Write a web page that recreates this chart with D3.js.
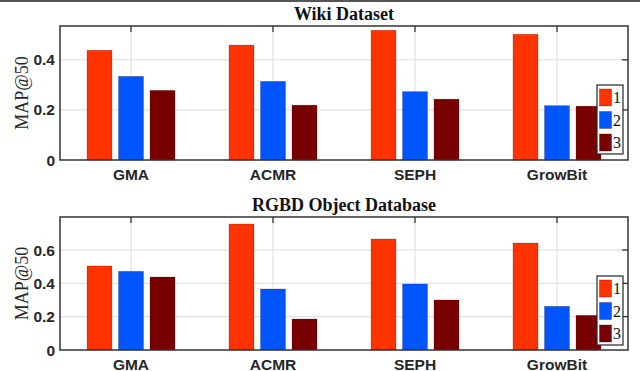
<!DOCTYPE html>
<html>
<head>
<meta charset="utf-8">
<script src="https://cdn.jsdelivr.net/npm/d3@7"></script>
<style>
  body { margin: 0; background: #fff; }
  svg { display: block; }
</style>
</head>
<body>
<div id="chart"></div>
<script>
var categories = ['GMA', 'ACMR', 'SEPH', 'GrowBit'];
var seriesNames = ['1', '2', '3'];
var colors = ['#ff3300', '#0055ff', '#780000'];

// MAP@50 values, one array per series
var wiki1 = [0.438, 0.459, 0.518, 0.502];
var wiki2 = [0.334, 0.314, 0.273, 0.217];
var wiki3 = [0.278, 0.219, 0.243, 0.215];
var wikiTicks = [0, 0.2, 0.4];

var rgbd1 = [0.504, 0.756, 0.666, 0.642];
var rgbd2 = [0.472, 0.366, 0.396, 0.262];
var rgbd3 = [0.438, 0.186, 0.300, 0.208];
var rgbdTicks = [0, 0.2, 0.4, 0.6];

var width = 640,
  height = 371;

var svg = d3.select('#chart')
  .append('svg')
  .attr('width', width)
  .attr('height', height);

// thin frame line along the top edge
svg.append('rect')
  .attr('x', 0).attr('y', 0)
  .attr('width', width).attr('height', 2)
  .attr('fill', '#555');

var drawPanel = function(opts) {
  var left = 60,
    right = 628,
    top = opts.top,
    bottom = opts.bottom;

  var x = d3.scaleBand()
    .domain(categories)
    .range([left, right]);
  var x1 = d3.scaleBand()
    .domain(seriesNames)
    .range([-44, 44])
    .paddingInner(0.206);
  var y = d3.scaleLinear()
    .domain([0, opts.yMax])
    .range([bottom, top]);

  var g = svg.append('g');
  var cx = function(c) { return x(c) + x.bandwidth() / 2; };

  // grid
  g.selectAll('.hgrid')
    .data(opts.ticks.filter(function(t) { return t > 0; }))
    .enter().append('line')
    .attr('x1', left).attr('x2', right)
    .attr('y1', function(d) { return y(d); })
    .attr('y2', function(d) { return y(d); })
    .attr('stroke', '#dcdcdc')
    .attr('stroke-width', 1);
  g.selectAll('.vgrid')
    .data(categories)
    .enter().append('line')
    .attr('x1', cx).attr('x2', cx)
    .attr('y1', top).attr('y2', bottom)
    .attr('stroke', '#dcdcdc')
    .attr('stroke-width', 1);

  // top and right inward ticks
  g.selectAll('.ttick')
    .data(categories)
    .enter().append('line')
    .attr('x1', cx).attr('x2', cx)
    .attr('y1', top).attr('y2', top + 6)
    .attr('stroke', '#262626')
    .attr('stroke-width', 1.2);
  g.selectAll('.rtick')
    .data(opts.ticks.filter(function(t) { return t > 0; }))
    .enter().append('line')
    .attr('x1', right - 6).attr('x2', right)
    .attr('y1', function(d) { return y(d); })
    .attr('y2', function(d) { return y(d); })
    .attr('stroke', '#262626')
    .attr('stroke-width', 1.2);

  // bars
  var rows = [];
  opts.series.forEach(function(vals, si) {
    vals.forEach(function(v, ci) {
      rows.push({ cat: categories[ci], s: seriesNames[si], si: si, v: v });
    });
  });
  g.selectAll('.bar')
    .data(rows)
    .enter().append('rect')
    .attr('x', function(d) { return cx(d.cat) + x1(d.s); })
    .attr('width', x1.bandwidth())
    .attr('y', function(d) { return y(d.v); })
    .attr('height', function(d) { return bottom - y(d.v); })
    .attr('fill', function(d) { return colors[d.si]; })
    .attr('stroke', '#3a0000')
    .attr('stroke-opacity', 0.35)
    .attr('stroke-width', 0.6);

  // axes box
  g.append('rect')
    .attr('x', left).attr('y', top)
    .attr('width', right - left).attr('height', bottom - top)
    .attr('fill', 'none')
    .attr('stroke', '#333')
    .attr('stroke-width', 1.5);

  // y tick labels
  g.selectAll('.ylab')
    .data(opts.ticks)
    .enter().append('text')
    .attr('x', left - 5)
    .attr('y', function(d) { return y(d) + 5.5; })
    .attr('text-anchor', 'end')
    .attr('font-family', 'Liberation Sans, Arial, sans-serif')
    .attr('font-weight', 'bold')
    .attr('font-size', '15.5px')
    .attr('fill', '#262626')
    .text(function(d) { return d === 0 ? '0' : d3.format('.1f')(d); });

  // x tick labels
  g.selectAll('.xlab')
    .data(categories)
    .enter().append('text')
    .attr('x', cx)
    .attr('y', bottom + 20)
    .attr('text-anchor', 'middle')
    .attr('font-family', 'Liberation Sans, Arial, sans-serif')
    .attr('font-weight', 'bold')
    .attr('font-size', '15.5px')
    .attr('fill', '#262626')
    .text(function(d) { return d; });

  // y label
  g.append('text')
    .attr('transform', 'translate(28,' + ((top + bottom) / 2) + ') rotate(-90)')
    .attr('text-anchor', 'middle')
    .attr('font-family', 'Liberation Serif, DejaVu Serif, serif')
    .attr('font-size', '18px')
    .attr('fill', '#262626')
    .text('MAP@50');

  // title
  g.append('text')
    .attr('x', (left + right) / 2)
    .attr('y', top - 6)
    .attr('text-anchor', 'middle')
    .attr('font-family', 'Liberation Serif, DejaVu Serif, serif')
    .attr('font-weight', 'bold')
    .attr('font-size', '18px')
    .attr('fill', '#111')
    .text(opts.title);

  // legend
  var lg = g.append('g')
    .attr('transform', 'translate(597,' + opts.legendTop + ')');
  lg.append('rect')
    .attr('width', 26).attr('height', 69)
    .attr('fill', '#fff')
    .attr('stroke', '#262626')
    .attr('stroke-width', 1.2);
  var item = lg.selectAll('.item')
    .data(seriesNames)
    .enter().append('g')
    .attr('transform', function(d, i) { return 'translate(0,' + (4 + i * 22.5) + ')'; });
  item.append('rect')
    .attr('x', 2.5).attr('width', 12).attr('height', 17)
    .attr('fill', function(d, i) { return colors[i]; })
    .attr('stroke', '#3a0000')
    .attr('stroke-opacity', 0.5)
    .attr('stroke-width', 0.6);
  item.append('text')
    .attr('x', 16).attr('y', 14)
    .attr('font-family', 'Liberation Serif, DejaVu Serif, serif')
    .attr('font-size', '16px')
    .attr('fill', '#111')
    .text(function(d) { return d; });
};

drawPanel({
  title: 'Wiki Dataset',
  series: [wiki1, wiki2, wiki3],
  ticks: wikiTicks,
  yMax: 0.535,
  top: 26,
  bottom: 160,
  legendTop: 85
});

drawPanel({
  title: 'RGBD Object Database',
  series: [rgbd1, rgbd2, rgbd3],
  ticks: rgbdTicks,
  yMax: 0.798,
  top: 217,
  bottom: 350,
  legendTop: 276
});
</script>
</body>
</html>
